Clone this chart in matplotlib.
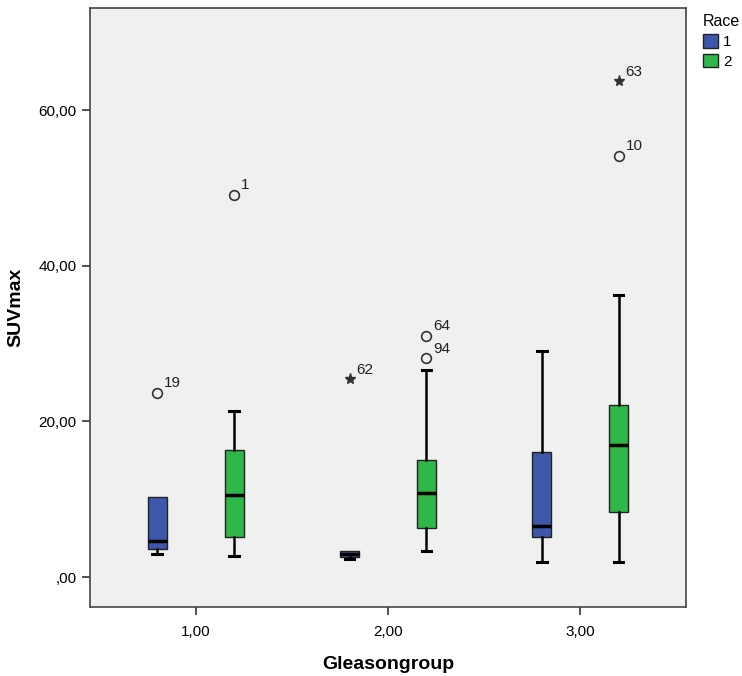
import numpy as np
import matplotlib.pyplot as plt

plt.rcParams['font.family'] = ['Liberation Sans', 'DejaVu Sans']

# box statistics (Gleasongroup 1..3, Race 1/2)
groups = [1.0, 2.0, 3.0]
group_labels = ['1,00', '2,00', '3,00']
races = ['1', '2']

whislo = {'1': [2.95, 2.3, 1.97], '2': [2.7, 3.4, 1.97]}
q1 = {'1': [3.64, 2.6, 5.1], '2': [5.1, 6.3, 8.3]}
med = {'1': [4.67, 3.0, 6.5], '2': [10.5, 10.8, 16.9]}
q3 = {'1': [10.3, 3.3, 16.1], '2': [16.3, 15.0, 22.1]}
whishi = {'1': [10.3, 3.3, 29.1], '2': [21.3, 26.6, 36.2]}

# outliers: (group, race, value, case label, kind)
outliers = [
    (1.0, '1', 23.7, '19', 'o'),
    (1.0, '2', 49.1, '1', 'o'),
    (2.0, '1', 25.4, '62', '*'),
    (2.0, '2', 31.0, '64', 'o'),
    (2.0, '2', 28.1, '94', 'o'),
    (3.0, '2', 63.7, '63', '*'),
    (3.0, '2', 54.1, '10', 'o'),
]

colors = {'1': '#3d57ab', '2': '#2fb849'}
offset = {'1': -0.2, '2': 0.2}

fig = plt.figure(figsize=(7.42, 6.76), dpi=100)
ax = fig.add_axes([0.1213, 0.102, 0.8032, 0.886])
ax.set_facecolor('#f0f0f0')

for r in races:
    stats = []
    for i in range(len(groups)):
        stats.append(dict(whislo=whislo[r][i], q1=q1[r][i], med=med[r][i],
                          q3=q3[r][i], whishi=whishi[r][i], fliers=[]))
    pos = [g + offset[r] for g in groups]
    bp = ax.bxp(stats, positions=pos, widths=0.1, patch_artist=True, showfliers=False,
                boxprops=dict(facecolor=colors[r], edgecolor='#222222', linewidth=1.0),
                medianprops=dict(color='black', linewidth=2.5),
                whiskerprops=dict(color='black', linewidth=1.8),
                capprops=dict(color='black', linewidth=2.2),
                capwidths=0.05, manage_ticks=False)
    # no cap where the whisker has zero length
    for i in range(len(groups)):
        if whishi[r][i] == q3[r][i]:
            bp['caps'][2 * i + 1].set_visible(False)

for g, r, v, lab, kind in outliers:
    x = g + offset[r]
    if kind == 'o':
        ax.plot(x, v, 'o', ms=7, mfc='none', mec='#333333', mew=1.2)
    else:
        ax.plot(x, v, '*', ms=8, color='#333333')
    ax.annotate(lab, (x, v), xytext=(5, 4), textcoords='offset points',
                fontsize=11, color='#222222')

ax.set_xlim(0.45, 3.55)
ax.set_ylim(-3.86, 73.1)
ax.set_xticks(groups)
ax.set_xticklabels(group_labels, fontsize=11)
ax.set_yticks([0, 20, 40, 60])
ax.set_yticklabels([',00', '20,00', '40,00', '60,00'], fontsize=11)
ax.tick_params(direction='out', length=6, width=1.2, color='#333333')
ax.tick_params(axis='x', pad=7)
for s in ax.spines.values():
    s.set_color('#444444')
    s.set_linewidth(1.2)

ax.set_xlabel('Gleasongroup', fontsize=14, fontweight='bold', labelpad=12)
ax.set_ylabel('SUVmax', fontsize=14, fontweight='bold', labelpad=10)

# legend outside on the right
handles = [plt.Rectangle((0, 0), 1, 1, facecolor=colors[r], edgecolor='#222222') for r in races]
leg = fig.legend(handles, races, title='Race', loc='upper left',
                 bbox_to_anchor=(0.937, 0.99), frameon=False, fontsize=11,
                 title_fontsize=11.5, handlelength=1.0, handleheight=1.0,
                 handletextpad=0.3, borderpad=0.0, labelspacing=0.3,
                 alignment='left')

fig.savefig('out.png', dpi=100)
